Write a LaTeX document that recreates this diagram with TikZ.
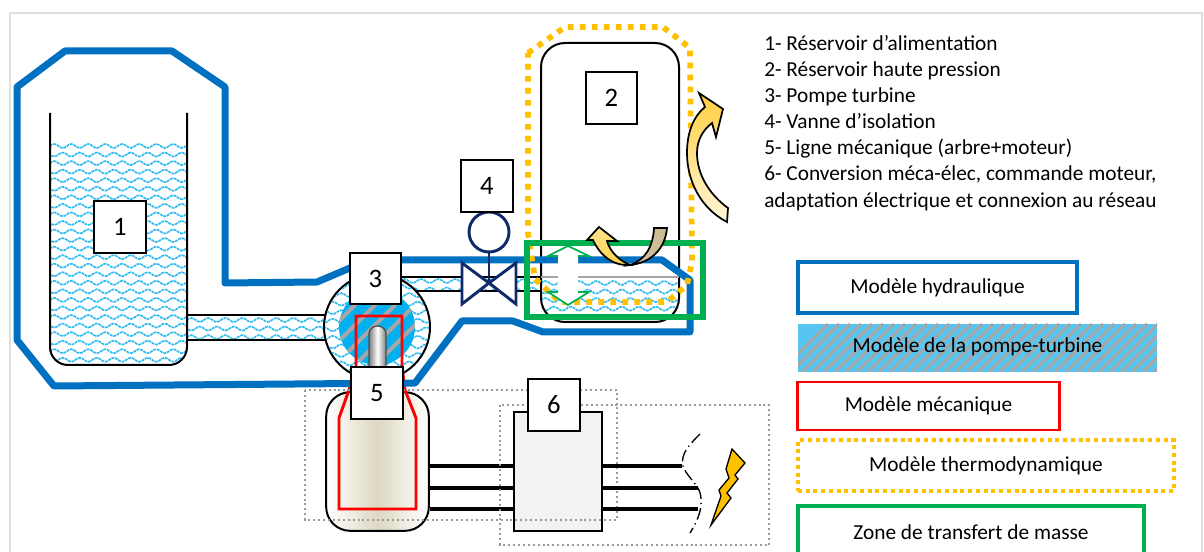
\documentclass[tikz,border=0pt]{standalone}
\usepackage{fontspec}
\setmainfont{Carlito}

\definecolor{bleuhydro}{HTML}{0070C0}
\definecolor{eau}{HTML}{2FBBF2}
\definecolor{bleupompe}{HTML}{00B0F0}
\definecolor{bleulegende}{HTML}{55C6F2}
\definecolor{rayure}{HTML}{A6A6A6}
\definecolor{jaune}{HTML}{FFC000}
\definecolor{vert}{HTML}{00B050}
\definecolor{marine}{HTML}{0F2A6B}
\definecolor{beige}{HTML}{DDD8C2}
\definecolor{sable}{HTML}{CDBE96}

\tikzset{
  hydro/.style={draw=bleuhydro, line width=5.25pt, line join=round},
  thermo/.style={draw=jaune, line width=4.3pt, dash pattern=on 4.3pt off 4.7pt},
  meca/.style={draw=red, line width=2.2pt},
  zone/.style={draw=vert, line width=4.2pt},
  paroi/.style={draw=black, line width=1.5pt},
  pointille/.style={draw=gray!80, line width=1.5pt, dash pattern=on 1.5pt off 2.2pt},
  fil/.style={draw=black, line width=3.6pt},
  vague/.style={draw=eau, line width=1.25pt, dash pattern=on 2.2pt off 0.6pt},
  boite/.style={draw=black, fill=white, line width=1.3pt, minimum width=38.5pt, minimum height=38.5pt, inner sep=0pt, font=\fontsize{20}{24}\selectfont},
  legende/.style={font=\fontsize{16}{19}\selectfont, inner sep=0pt},
  liste/.style={font=\fontsize{16}{19}\selectfont, anchor=base west, inner sep=0pt},
  cadre/.style={legende, line width=3pt, fill=white},
}

% rows of small waves, to be used inside a clip
\newcommand{\vagues}[4]{%
  \foreach \j in {0,...,#4} {
    \pgfmathsetmacro{\dx}{mod(\j,2)*8.5}
    \draw[vague] ({#1-\dx},{#2+\j*8.55})
      \foreach \k in {0,...,#3} { sin ++(4.25,-2) cos ++(4.25,2) sin ++(4.25,2) cos ++(4.25,-2) };
  }
}

\begin{document}
\begin{tikzpicture}[x=0.75pt, y=-0.75pt]
    \useasboundingbox (0,0) rectangle (1204,552);

    % Page frame
    \draw[gray!25, line width=1.5pt] (10,552) -- (10,13) -- (1202,13) -- (1202,552);

    % Water
    \begin{scope}
      \clip (50,143) -- (187,143) -- (187,347) arc[start angle=0, end angle=90, radius=18] -- (68,365) arc[start angle=90, end angle=180, radius=18] -- cycle;
      \vagues{50}{146}{8}{26}
    \end{scope}
    \begin{scope}
      \clip (187,315) rectangle (330,340);
      \vagues{187}{320}{8}{2}
    \end{scope}
    \begin{scope}
      \clip (400,277) rectangle (541,291);
      \vagues{400}{281}{8}{1}
    \end{scope}
    \begin{scope}
      \clip (541,277) -- (679,277) -- (679,298) arc[start angle=0, end angle=90, radius=24] -- (565,322) arc[start angle=90, end angle=180, radius=24] -- cycle;
      \vagues{541}{283}{8}{4}
    \end{scope}

    % Tanks and pipes
    \draw[paroi] (50,113) -- (50,347) arc[start angle=180, end angle=90, radius=18] -- (169,365) arc[start angle=90, end angle=0, radius=18] -- (187,113);
    \draw[paroi, rounded corners=18pt] (541,277) -- (541,43) -- (679,43) -- (679,277);
    \draw[paroi, rounded corners=18pt] (541,277) -- (541,322) -- (679,322) -- (679,277);
    \draw[paroi] (187,315) -- (330,315);
    \draw[paroi] (187,340) -- (330,340);
    \draw[paroi] (400,277) -- (541,277);
    \draw[paroi] (400,291) -- (541,291);
    \draw[rayure, line width=1pt] (541,277) -- (679,277);

    % Pump
    \draw[paroi, fill=white] (377,327) circle[radius=53];
    \begin{scope}
      \clip (377,327) circle[radius=52];
      \vagues{320}{278}{7}{11}
    \end{scope}
    \begin{scope}
      \fill[bleupompe] (377,327) circle[radius=38];
      \clip (377,327) circle[radius=38];
      \foreach \s in {290,310,...,470} {
        \draw[rayure, line width=3pt] (\s,370) -- ++(90,-90);
      }
    \end{scope}

    % Motor and shaft
    \node[paroi, rounded corners=18pt, left color=white, right color=white, middle color=beige, minimum width=77pt, minimum height=104pt] (moteur) at (377.5,461.5) {};
    \draw[black!70, left color=gray, right color=gray, middle color=white, rounded corners=6pt, line width=1pt] (369,385) rectangle (386,326);
    \draw[meca, line join=miter] (356,316) -- (402,316) -- (402,367) -- (405,390) -- (416,418) -- (416,509) -- (339,509) -- (339,418) -- (349,390) -- (356,367) -- cycle;

    % Hydraulic model
    \draw[hydro] (17,87) -- (65,51) -- (172,51) -- (225,87) -- (225,283) -- (317,282) -- (350,268) -- (402,260) -- (662,260) -- (690,280) -- (690,332) -- (543,332) -- (513,321) -- (462,321) -- (415,383) -- (54,386) -- (17,340) -- cycle;

    % Valve
    \coordinate (vanne) at (489,283);
    \node[circle, draw=marine, line width=2.2pt, minimum size=30pt, inner sep=0pt] (volant) at (489,232) {};
    \draw[marine, line width=2.2pt, fill=white, line join=miter] (vanne) -- (462,263) -- (462,304) -- cycle;
    \draw[marine, line width=2.2pt, fill=white, line join=miter] (vanne) -- (516,263) -- (516,304) -- cycle;
    \draw[marine, line width=2.2pt] (volant) -- (vanne);

    % Thermodynamic model and transfer zone
    \draw[thermo] (528,53) -- (565,27) -- (663,27) -- (690,48) -- (692,262) -- (687,285) -- (667,302) -- (560,302) -- (535,279) -- (528,233) -- cycle;
    \fill[white] (568,246) -- (589,256) -- (578,256) -- (578,292) -- (589,292) -- (568,305) -- (548,292) -- (558,292) -- (558,256) -- (548,256) -- cycle;
    \draw[vert, line width=1.3pt, line join=miter] (558,256) -- (548,256) -- (568,246) -- (589,256) -- (578,256);
    \draw[vert, line width=1.3pt, line join=miter] (558,292) -- (548,292) -- (568,305) -- (589,292) -- (578,292);
    \draw[zone] (527,243) rectangle (703,317);

    % Curved arrows
    \draw[line width=1.3pt, top color=jaune!75, bottom color=jaune!15] (727,222) .. controls (700,208) and (687,180) .. (687,153) .. controls (687,130) and (695,115) .. (705,107) -- (699,93) -- (723,109) -- (716,137) -- (712,123) .. controls (703,130) and (697,140) .. (697,153) .. controls (697,175) and (710,195) .. (728,208) -- cycle;
    \draw[line width=1.3pt, fill=sable] (630,265) .. controls (650,263) and (665,250) .. (667,228) -- (654,228) .. controls (653,247) and (645,260) .. (630,265) -- cycle;
    \draw[line width=1.3pt, top color=jaune!45, bottom color=jaune!70] (587,240) -- (599,227) -- (617,241) -- (607,241) .. controls (610,252) and (620,261) .. (630,265) .. controls (612,266) and (600,255) .. (593,240) -- cycle;

    % Electrical part
    \node[draw=black, fill=black!5, line width=1.5pt, minimum width=66pt, minimum height=89pt] (conv) at (558,471.5) {};
    \foreach \y/\e in {466/3.6pt, 488/2.8pt, 509/3.6pt} {
      \draw[fil, line width=\e] (moteur.east |- 0,\y) -- (conv.west |- 0,\y);
    }
    \draw[pointille] (305,390) rectangle (617,520);
    \draw[pointille] (500,405) rectangle (769,545);
    \draw[fil, line width=2.7pt] (conv.east |- 0,466) -- (682,466);
    \draw[fil, line width=2.7pt] (conv.east |- 0,488) -- (698,488);
    \draw[fil, line width=2.7pt] (conv.east |- 0,509) -- (698,509);
    \draw[black, line width=1pt, dash pattern=on 9pt off 3pt on 1pt off 3pt] (700,434) .. controls (690,444) and (680,454) .. (683,466) .. controls (686,475) and (695,482) .. (699,490) .. controls (705,505) and (698,520) .. (690,533);
    \draw[black, line width=1pt, fill=jaune, line join=miter] (732,449) -- (745,463) -- (735,475) -- (738,479) -- (727,493) -- (731,498) -- (711,525) -- (721,496) -- (719,490) -- (729,478) -- (726,469) -- cycle;

    % Number boxes
    \foreach \n/\x/\y in {1/120/227, 2/611.5/98, 3/375.5/278.5, 4/487/186, 5/377/393, 6/554/405} {
      \node[boite] (b\n) at (\x,\y) {\n};
    }

    % Text list
    \foreach \y/\t in {51/{1- Réservoir d’alimentation}, 77/{2- Réservoir haute pression}, 103/{3- Pompe turbine}, 129/{4- Vanne d’isolation}, 155/{5- Ligne mécanique (arbre+moteur)}, 181/{6- Conversion méca-élec, commande moteur,}, 208/{adaptation électrique et connexion au réseau}} {
      \node[liste] at (764,\y) {\t};
    }

    % Legend
    \node[cadre, draw=bleuhydro, minimum width=209pt, minimum height=38pt] (lhydro) at (937.5,287.5) {Modèle hydraulique};
    \begin{scope}
      \fill[bleulegende] (798,324) rectangle (1157,372);
      \clip (798,324) rectangle (1157,372);
      \foreach \s in {780,791,...,1170} {
        \draw[rayure, line width=2.2pt] (\s,372) -- ++(48,-48);
      }
    \end{scope}
    \node[legende] (lpompe) at (977.5,347) {Modèle de la pompe-turbine};
    \node[cadre, draw=red, line width=2.2pt, minimum width=196pt, minimum height=36pt] (lmeca) at (928.5,406) {Modèle mécanique};
    \node[legende, minimum width=282pt, minimum height=38pt, thermo, line width=3pt, dash pattern=on 3pt off 2.8pt] (lthermo) at (986,465.5) {Modèle thermodynamique};
    \node[cadre, draw=vert, minimum width=259.5pt, minimum height=39pt] (lzone) at (971,532) {Zone de transfert de masse};
\end{tikzpicture}
\end{document}
